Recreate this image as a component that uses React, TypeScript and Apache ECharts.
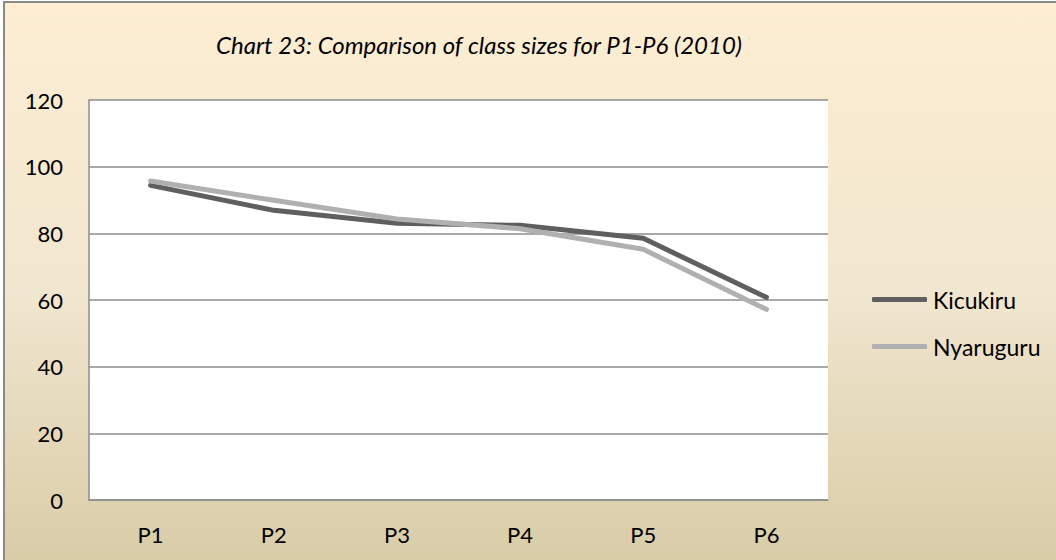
import React, { useEffect, useRef } from "react";
import * as echarts from "echarts";

const categories = ["P1", "P2", "P3", "P4", "P5", "P6"];
const kicukiru = [94.4, 86.9, 83.0, 82.4, 78.5, 60.8];
const nyaruguru = [95.7, 89.9, 84.3, 81.4, 75.2, 57.2];
const titleText = "Chart 23: Comparison of class sizes for P1-P6 (2010)";
const FONT = "Lato, 'Open Sans', sans-serif";

export default function App() {
  const ref = useRef<HTMLDivElement>(null);
  useEffect(() => {
    document.body.style.margin = "0";
    const chart = echarts.init(ref.current!, null, { renderer: "svg" });
    chart.setOption({
      animation: false,
      graphic: [
        {
          type: "rect",
          z: -10,
          silent: true,
          shape: { x: 4, y: 2, width: 1070, height: 580 },
          style: {
            fill: new echarts.graphic.LinearGradient(0, 0, 0, 1, [
              { offset: 0, color: "#fdeed3" },
              { offset: 0.5, color: "#f1e6cf" },
              { offset: 1, color: "#d7caa4" },
            ]),
            stroke: "#8a8a8a",
            lineWidth: 2,
          },
        },
      ],
      title: {
        text: titleText,
        left: 474,
        textAlign: "center",
        top: 27,
        textStyle: {
          fontFamily: FONT,
          fontStyle: "italic",
          fontWeight: "normal",
          fontSize: 24,
          color: "#000",
        },
      },
      grid: {
        left: 89,
        top: 100,
        right: 228,
        bottom: 60,
        show: true,
        backgroundColor: "#ffffff",
        borderWidth: 0,
      },
      legend: {
        orient: "vertical",
        left: 867,
        top: 283,
        icon: "roundRect",
        itemWidth: 55,
        itemHeight: 5,
        itemGap: 24,
        textStyle: { fontFamily: FONT, fontSize: 23, color: "#000", padding: [0, 0, 0, 1] },
        data: ["Kicukiru", "Nyaruguru"],
      },
      xAxis: {
        type: "category",
        data: categories,
        boundaryGap: true,
        axisLine: { show: true, lineStyle: { color: "#8c8c8c", width: 1.5 } },
        axisTick: { show: false },
        axisLabel: { fontFamily: FONT, fontSize: 22, color: "#000", margin: 23 },
      },
      yAxis: {
        type: "value",
        min: 0,
        max: 120,
        interval: 20,
        axisLine: { show: true, lineStyle: { color: "#8c8c8c", width: 1.5 } },
        axisTick: { show: false },
        axisLabel: { fontFamily: FONT, fontSize: 22, color: "#000", margin: 26 },
        splitLine: { show: true, lineStyle: { color: "#8c8c8c", width: 1.5 } },
      },
      series: [
        {
          name: "Kicukiru",
          type: "line",
          data: kicukiru,
          symbol: "none",
          lineStyle: { color: "#5f5f5f", width: 5, cap: "round", join: "round" },
          itemStyle: { color: "#5f5f5f" },
        },
        {
          name: "Nyaruguru",
          type: "line",
          data: nyaruguru,
          symbol: "none",
          lineStyle: { color: "#b0b0b0", width: 5, cap: "round", join: "round" },
          itemStyle: { color: "#b0b0b0" },
        },
      ],
    });
    return () => chart.dispose();
  }, []);
  return <div ref={ref} style={{ width: 1056, height: 560 }} />;
}
